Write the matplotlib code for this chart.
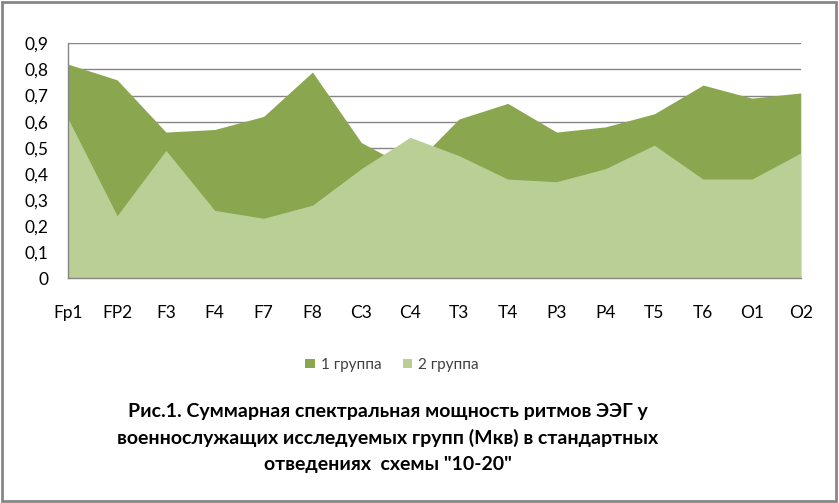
import numpy as np
import matplotlib
matplotlib.use("Agg")
import matplotlib.pyplot as plt
from matplotlib.patches import Patch

plt.rcParams['font.family'] = ['Lato', 'DejaVu Sans']

# leads of the 10-20 scheme
leads = ['Fp1', 'FP2', 'F3', 'F4', 'F7', 'F8', 'C3', 'C4',
         'T3', 'T4', 'P3', 'P4', 'T5', 'T6', 'O1', 'O2']
group1 = [0.82, 0.76, 0.56, 0.57, 0.62, 0.79, 0.52, 0.42,
          0.61, 0.67, 0.56, 0.58, 0.63, 0.74, 0.69, 0.71]
group2 = [0.61, 0.24, 0.49, 0.26, 0.23, 0.28, 0.42, 0.54,
          0.47, 0.38, 0.37, 0.42, 0.51, 0.38, 0.38, 0.48]
yticks = [0, 0.1, 0.2, 0.3, 0.4, 0.5, 0.6, 0.7, 0.8, 0.9]
ylabels = ['0', '0,1', '0,2', '0,3', '0,4', '0,5', '0,6', '0,7', '0,8', '0,9']

dark = '#8AA64F'
light = '#B9CF96'
grey = '#868686'

fig = plt.figure(figsize=(8.39, 5.03), dpi=100)
ax = fig.add_axes([0.0814, 0.4467, 0.8730, 0.4672])

x = np.arange(len(leads))
ax.fill_between(x, 0, group1, color=dark, linewidth=0, zorder=2)
ax.fill_between(x, 0, group2, color=light, linewidth=0, zorder=3)

ax.set_xlim(0, len(leads) - 1)
ax.set_ylim(0, 0.9)
ax.set_yticks(yticks)
ax.set_yticklabels(ylabels)
ax.set_xticks(x)
ax.set_xticklabels(leads)
ax.tick_params(axis='y', length=0, pad=14, labelsize=12.5)
ax.tick_params(axis='x', length=0, pad=19, labelsize=12.5)
ax.grid(axis='y', color=grey, linewidth=1)
ax.set_axisbelow(True)
for s in ['top', 'right']:
    ax.spines[s].set_visible(False)
for s in ['left', 'bottom']:
    ax.spines[s].set_color(grey)
    ax.spines[s].set_linewidth(1)
    ax.spines[s].set_zorder(4)

handles = [Patch(facecolor=dark, edgecolor='none', label='1 группа'),
           Patch(facecolor=light, edgecolor='none', label='2 группа')]
fig.legend(handles=handles, loc='center', bbox_to_anchor=(392 / 839, 1 - 365 / 503),
           ncol=2, frameon=False, fontsize=11, handlelength=0.6, handleheight=0.6,
           handletextpad=0.4, columnspacing=1.4, labelcolor='#404040')

fig.text(388 / 839, 1 - 438 / 503,
         'Рис.1. Суммарная спектральная мощность ритмов ЭЭГ у\n'
         'военнослужащих исследуемых групп (Мкв) в стандартных\n'
         'отведениях  схемы "10-20"',
         ha='center', va='center', fontsize=14, fontweight='bold',
         linespacing=1.6)

# outer chart border
fig.patches.append(plt.Rectangle((0.002, 0.003), 0.995, 0.993, transform=fig.transFigure,
                                 fill=False, edgecolor=grey, linewidth=2))

fig.savefig('out.png', dpi=100)
